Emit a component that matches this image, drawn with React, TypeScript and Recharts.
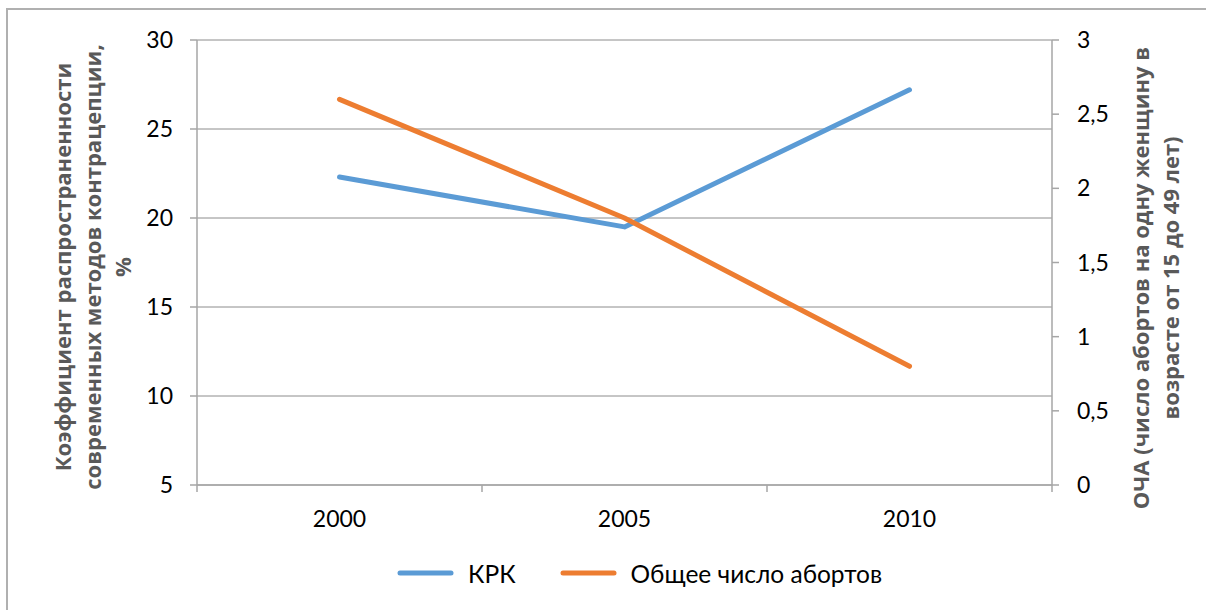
import React from "react";
import {
  LineChart,
  Line,
  XAxis,
  YAxis,
  CartesianGrid,
  Legend,
} from "recharts";

// Years shown on the category axis
const years = [2000, 2005, 2010];
// Prevalence of modern contraceptive methods, %
const krk = [22.3, 19.5, 27.2];
// Total abortion rate per woman aged 15–49
const abortions = [2.6, 1.8, 0.8];

const leftTicks = [5, 10, 15, 20, 25, 30];
const rightTicks = [0, 0.5, 1, 1.5, 2, 2.5, 3];
// Boundaries between the year categories, where the axis tick marks sit
const yearBounds = [1997.5, 2002.5, 2007.5, 2012.5];

const seriesNames = { krk: "КРК", abortions: "Общее число абортов" };
const leftTitle = [
  "Коэффициент распространенности",
  "современных методов контрацепции,",
  "%",
];
const rightTitle = [
  "ОЧА (число абортов на одну женщину в",
  "возрасте от 15 до 49 лет)",
];

const data = years.map((year, i) => ({
  year,
  krk: krk[i],
  abortions: abortions[i],
}));

const FONT = "Lato, 'Open Sans', sans-serif";
const TITLE_FONT = "'Open Sans', 'Noto Sans', sans-serif";
const AXIS = "#a6a6a6";
const GRID = "#8c8c8c";
const BLUE = "#5B9BD5";
const ORANGE = "#ED7D31";

const YearTick = (props: any) => {
  const { x, y, payload } = props;
  const v = payload.value;
  if (years.includes(v)) {
    return (
      <text
        x={x}
        y={y + 42}
        textAnchor="middle"
        fontFamily={FONT}
        fontSize={23}
        fill="#000"
      >
        {v}
      </text>
    );
  }
  return <line x1={x} x2={x} y1={y} y2={y + 7} stroke={AXIS} strokeWidth={1.5} />;
};

const AxisTitle = (props: any) => {
  const { viewBox, lines, xs, cy } = props;
  const vx = viewBox?.x ?? 0;
  return (
    <g>
      {lines.map((line: string, i: number) => {
        const x = vx + xs[i];
        return (
          <text
            key={i}
            x={x}
            y={cy}
            transform={`rotate(-90, ${x}, ${cy})`}
            textAnchor="middle"
            dominantBaseline="central"
            fontFamily={TITLE_FONT}
            fontWeight={700}
            fontSize={22}
            fill="#595959"
          >
            {line}
          </text>
        );
      })}
    </g>
  );
};

const LegendContent = (props: any) => {
  const { payload } = props;
  return (
    <div
      style={{
        display: "flex",
        alignItems: "center",
        height: 36,
        paddingLeft: 397,
        fontFamily: FONT,
        fontSize: 24.5,
        color: "#000",
      }}
    >
      {(payload || []).map((item: any, i: number) => (
        <div
          key={i}
          style={{ display: "flex", alignItems: "center", marginRight: 44 }}
        >
          <svg width={57} height={10} style={{ marginRight: 14 }}>
            <line
              x1={3}
              x2={54}
              y1={5}
              y2={5}
              stroke={item.color}
              strokeWidth={5}
              strokeLinecap="round"
            />
          </svg>
          <span>{item.value}</span>
        </div>
      ))}
    </div>
  );
};

export default function App() {
  return (
    <div
      style={{
        position: "absolute",
        left: 0,
        top: 0,
        width: 1206,
        height: 610,
        background: "#fff",
        overflow: "hidden",
      }}
    >
      <div
        style={{
          position: "absolute",
          left: 6,
          top: 8,
          width: 1300,
          height: 700,
          borderLeft: "2px solid #b0b0b0",
          borderTop: "2px solid #b0b0b0",
        }}
      />
      <div style={{ position: "absolute", left: 0, top: 0 }}>
        <LineChart
          width={1206}
          height={610}
          data={data}
          margin={{ top: 40, right: 0, bottom: 19, left: 0 }}
        >
          <CartesianGrid
            yAxisId="left"
            vertical={false}
            stroke={GRID}
            strokeWidth={1}
          />
          <XAxis
            dataKey="year"
            type="number"
            domain={[1997.5, 2012.5]}
            ticks={[...yearBounds, ...years].sort((a, b) => a - b)}
            interval={0}
            height={70}
            tickLine={false}
            tickSize={0}
            tickMargin={0}
            tick={<YearTick />}
            axisLine={{ stroke: AXIS, strokeWidth: 1.5 }}
          />
          <YAxis
            yAxisId="left"
            orientation="left"
            width={197}
            domain={[5, 30]}
            ticks={leftTicks}
            interval={0}
            tickSize={7}
            tickMargin={17}
            tickLine={{ stroke: AXIS, strokeWidth: 1.5 }}
            axisLine={{ stroke: AXIS, strokeWidth: 1.5 }}
            tick={{ fontFamily: FONT, fontSize: 23, fill: "#000" }}
            label={<AxisTitle lines={leftTitle} xs={[62, 92, 122]} cy={267} />}
          />
          <YAxis
            yAxisId="right"
            orientation="right"
            width={154}
            domain={[0, 3]}
            ticks={rightTicks}
            interval={0}
            tickSize={7}
            tickMargin={18}
            tickFormatter={(v: number) => String(v).replace(".", ",")}
            tickLine={{ stroke: AXIS, strokeWidth: 1.5 }}
            axisLine={{ stroke: AXIS, strokeWidth: 1.5 }}
            tick={{ fontFamily: FONT, fontSize: 23, fill: "#000" }}
            label={<AxisTitle lines={rightTitle} xs={[88, 118]} cy={278} />}
          />
          <Line
            yAxisId="left"
            type="linear"
            dataKey="krk"
            name={seriesNames.krk}
            stroke={BLUE}
            strokeWidth={5}
            strokeLinecap="round"
            strokeLinejoin="round"
            dot={false}
            activeDot={false}
            isAnimationActive={false}
          />
          <Line
            yAxisId="right"
            type="linear"
            dataKey="abortions"
            name={seriesNames.abortions}
            stroke={ORANGE}
            strokeWidth={5}
            strokeLinecap="round"
            strokeLinejoin="round"
            dot={false}
            activeDot={false}
            isAnimationActive={false}
          />
          <Legend
            verticalAlign="bottom"
            height={36}
            content={<LegendContent />}
            wrapperStyle={{ left: 0, width: 1206 }}
          />
        </LineChart>
      </div>
    </div>
  );
}
